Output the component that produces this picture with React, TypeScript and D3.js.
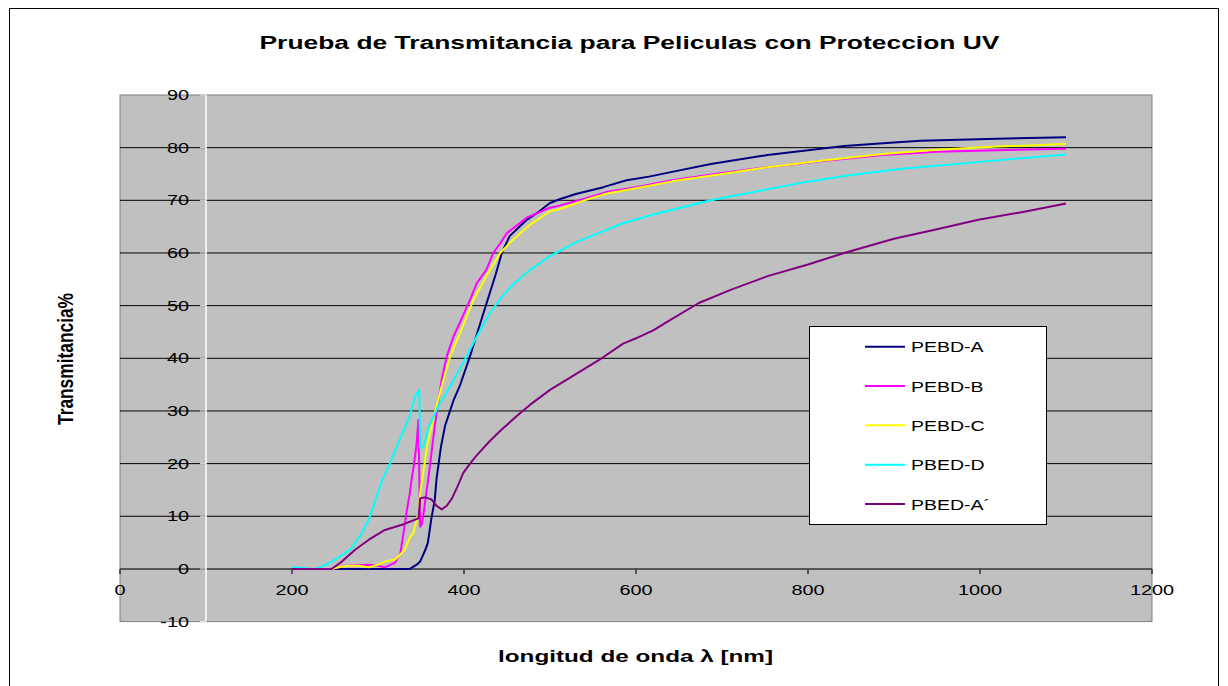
import React from "react";
import * as d3 from "d3";

const TITLE = "Prueba de Transmitancia para Peliculas con Proteccion UV";
const X_TITLE = "longitud de onda λ [nm]";
const Y_TITLE = "Transmitancia%";

const xTicks = [0, 200, 400, 600, 800, 1000, 1200];
const yTicks = [-10, 0, 10, 20, 30, 40, 50, 60, 70, 80, 90];

const seriesNames = ["PEBD-A", "PEBD-B", "PEBD-C", "PBED-D", "PBED-A´"];
const seriesColors = ["#000080", "#FF00FF", "#FFFF00", "#00FFFF", "#800080"];

const wlA = [200, 337, 345, 349, 355, 358, 362, 366, 368, 373, 378, 388, 395, 407, 419, 430, 437, 444, 453, 473, 485, 500, 511, 530, 562, 589, 615, 642, 687, 753, 800, 842, 900, 931, 1020, 1100];
const tA = [0, 0, 0.8, 1.4, 3.6, 5, 9.5, 13.1, 17, 23, 27.2, 32.1, 34.7, 40.4, 46.7, 52.4, 56, 60, 63.2, 66.3, 67.6, 69.5, 70.2, 71.2, 72.5, 73.8, 74.5, 75.4, 76.9, 78.6, 79.5, 80.3, 81, 81.3, 81.7, 82];

const wlB = [200, 246, 262, 289, 300, 308, 320, 326, 329, 333, 337, 339, 342, 345, 347, 348, 349, 351, 353, 355, 360, 364, 368, 374, 380, 388, 395, 407, 415, 426, 434, 442, 450, 473, 500, 509, 540, 566, 600, 642, 700, 753, 820, 887, 950, 1020, 1100];
const tB = [0, 0, 0.6, 0.8, 0.6, 0.3, 1.2, 3, 6.1, 10.6, 14.4, 16.9, 20, 24, 28.3, 18, 8, 8.5, 10.6, 13, 19, 24.5, 29.6, 35.9, 40.4, 44.2, 46.7, 51.1, 54.3, 56.8, 60, 61.8, 63.8, 66.7, 68.6, 68.9, 70.3, 71.6, 72.5, 73.8, 75.2, 76.3, 77.5, 78.6, 79.2, 79.5, 79.8];

const wlC = [200, 246, 254, 265, 277, 289, 300, 308, 320, 331, 337, 341, 347, 349, 352, 357, 366, 374, 384, 397, 411, 426, 442, 457, 477, 500, 509, 540, 566, 600, 642, 700, 753, 820, 887, 950, 1020, 1100];
const tC = [0, 0, 0.3, 0.6, 0.6, 0.3, 0.8, 1.4, 1.8, 3.6, 6, 6.8, 10.6, 14.4, 17.5, 23.3, 29.6, 34.7, 40.4, 45.4, 51.1, 55.6, 60, 62.5, 65.4, 67.9, 68.2, 70, 71.3, 72.3, 73.6, 75, 76.3, 77.6, 78.8, 79.6, 80.2, 80.7];

const wlD = [200, 210, 227, 240, 246, 260, 269, 280, 289, 296, 304, 314, 325, 337, 343, 348, 349, 353, 359, 370, 384, 399, 415, 430, 446, 460, 477, 500, 530, 560, 584, 620, 687, 750, 798, 850, 909, 1000, 1100];
const tD = [0.3, 0.2, 0, 0.8, 1.4, 2.8, 3.9, 6.5, 9.3, 12.5, 16.5, 20.1, 24.5, 29, 32.8, 34, 22.9, 23.3, 27, 30.9, 34.7, 39.1, 44.2, 48.6, 52.1, 54.5, 56.8, 59.4, 62, 64, 65.6, 67.3, 70, 72, 73.5, 74.8, 76, 77.3, 78.7];

const wlE = [200, 246, 258, 273, 289, 308, 328, 347, 349, 355, 362, 368, 374, 380, 386, 392, 399, 407, 415, 430, 442, 461, 477, 500, 530, 560, 585, 600, 620, 640, 673, 710, 753, 800, 842, 900, 950, 998, 1050, 1100];
const tE = [0, 0, 1.4, 3.6, 5.5, 7.4, 8.4, 9.6, 13.4, 13.6, 13.2, 12, 11.3, 12, 13.4, 15.5, 18.2, 20, 21.6, 24.3, 26.2, 29, 31.2, 34, 37, 40, 42.8, 43.8, 45.3, 47.3, 50.5, 53, 55.6, 57.8, 60, 62.7, 64.5, 66.3, 67.8, 69.4];

const seriesWl = [wlA, wlB, wlC, wlD, wlE];
const seriesT = [tA, tB, tC, tD, tE];

const FONT = "'Liberation Sans', Arial, sans-serif";
const SX = 1.42;

function SText(props: { x: number; y: number; anchor?: string; size: number; bold?: boolean; sx?: number; children: React.ReactNode }) {
  const { x, y, anchor = "start", size, bold = false, sx = SX, children } = props;
  return (
    <text
      transform={`translate(${x},${y}) scale(${sx},1)`}
      textAnchor={anchor}
      fontFamily={FONT}
      fontSize={size}
      fontWeight={bold ? "bold" : "normal"}
      fill="#000"
    >
      {children}
    </text>
  );
}

export default function App() {
  const W = 1228;
  const H = 686;
  const left = 120;
  const right = 1152;
  const top = 95;
  const bottom = 621.6;

  const x = d3.scaleLinear().domain([0, 1200]).range([left, right]);
  const y = d3.scaleLinear().domain([-10, 90]).range([bottom, top]);

  const line = d3
    .line<[number, number]>()
    .x((d) => x(d[0]))
    .y((d) => y(d[1]))
    .curve(d3.curveLinear);

  const yAxisX = x(100);

  const legendX = 809.5;
  const legendY = 326.5;
  const legendRows = [346.7, 386, 425.3, 464.7, 504];

  return (
    <svg width={W} height={H} style={{ position: "absolute", left: 0, top: 0, background: "#fff" }}>
      <rect x={0} y={0} width={W} height={H} fill="#fff" />
      <rect x={9.5} y={8.5} width={1209} height={700} fill="#fff" stroke="#000" strokeWidth={1} />

      <text
        x={629.5}
        y={48.5}
        textAnchor="middle"
        fontFamily={FONT}
        fontSize={18}
        fontWeight="bold"
        textLength={740}
        lengthAdjust="spacingAndGlyphs"
      >
        {TITLE}
      </text>

      {/* plot area */}
      <rect x={left} y={top} width={right - left} height={bottom - top} fill="#C0C0C0" stroke="#808080" strokeWidth={1} />

      {/* gridlines */}
      {yTicks
        .filter((t) => t !== 0 && t !== 90 && t !== -10)
        .map((t) => (
          <line key={"g" + t} x1={left} x2={right} y1={y(t)} y2={y(t)} stroke="#000" strokeWidth={1} />
        ))}

      {/* x axis (at 0) */}
      <line x1={left} x2={right} y1={y(0)} y2={y(0)} stroke="#555" strokeWidth={2} />
      {xTicks.map((t) => (
        <line key={"xt" + t} x1={x(t)} x2={x(t)} y1={y(0)} y2={y(0) + 5} stroke="#333" strokeWidth={1.5} />
      ))}
      {xTicks.map((t) => (
        <SText key={"xl" + t} x={x(t)} y={y(0) + 26} anchor="middle" size={14}>
          {t}
        </SText>
      ))}

      {/* y axis (white) */}
      <line x1={yAxisX} x2={yAxisX} y1={top} y2={bottom} stroke="#fff" strokeWidth={1.5} />
      {yTicks.map((t) => (
        <line key={"yt" + t} x1={yAxisX - 6} x2={yAxisX} y1={y(t)} y2={y(t)} stroke="#e8e8e8" strokeWidth={1} />
      ))}
      {yTicks.map((t) => (
        <SText key={"yl" + t} x={189} y={y(t) + 5} anchor="end" size={14}>
          {t}
        </SText>
      ))}

      {/* series */}
      {seriesWl.map((wl, i) => {
        const pts = wl.map((w, j) => [w, seriesT[i][j]] as [number, number]);
        return (
          <path key={"s" + i} d={line(pts) || ""} fill="none" stroke={seriesColors[i]} strokeWidth={2} strokeLinejoin="round" />
        );
      })}

      {/* legend */}
      <rect x={legendX} y={legendY} width={237} height={198} fill="#fff" stroke="#000" strokeWidth={1} />
      {seriesNames.map((n, i) => (
        <g key={"lg" + i}>
          <line x1={865} x2={905} y1={legendRows[i]} y2={legendRows[i]} stroke={seriesColors[i]} strokeWidth={2} />
          <SText x={911} y={legendRows[i] + 5.5} size={15} sx={1.3}>
            {n}
          </SText>
        </g>
      ))}

      {/* axis titles */}
      <text
        x={635.5}
        y={662}
        textAnchor="middle"
        fontFamily={FONT}
        fontSize={16}
        fontWeight="bold"
        textLength={275}
        lengthAdjust="spacingAndGlyphs"
      >
        {X_TITLE}
      </text>
      <text
        transform={`translate(72.5,359) scale(1.4,1) rotate(-90)`}
        textAnchor="middle"
        fontFamily={FONT}
        fontSize={16}
        fontWeight="bold"
        textLength={132}
        lengthAdjust="spacingAndGlyphs"
      >
        {Y_TITLE}
      </text>
    </svg>
  );
}
